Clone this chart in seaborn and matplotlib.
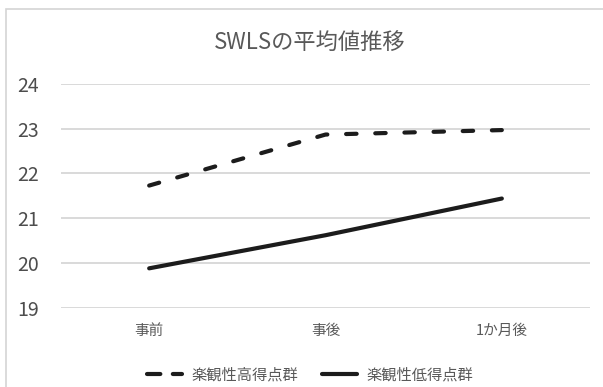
import matplotlib
matplotlib.use("Agg")
import matplotlib.pyplot as plt
from matplotlib.patches import Rectangle
import seaborn as sns
import pandas as pd

# Mean SWLS scores at each measurement point
periods = ["事前", "事後", "1か月後"]
high_group = [21.73, 22.87, 22.97]
low_group = [19.88, 20.62, 21.44]
group_names = ["楽観性高得点群", "楽観性低得点群"]
y_ticks = [19, 20, 21, 22, 23, 24]

df = pd.DataFrame({
    "時期": periods * 2,
    "SWLS": high_group + low_group,
    "群": [group_names[0]] * 3 + [group_names[1]] * 3,
})

sns.set_theme(style="white")
plt.rcParams["font.family"] = ["Noto Sans CJK JP", "DejaVu Sans"]

text_color = "#595959"
line_color = "#1c1c1c"

fig = plt.figure(figsize=(6.03, 3.87), dpi=100)
ax = fig.add_axes([61 / 603, 1 - 307.7 / 387, (590 - 61) / 603, (307.7 - 84) / 387])

sns.lineplot(
    data=df, x="時期", y="SWLS", hue="群", style="群",
    palette={group_names[0]: line_color, group_names[1]: line_color},
    dashes={group_names[0]: (2.5, 4.5), group_names[1]: ""},
    linewidth=3.0, legend=False, ax=ax, sort=False,
)
for ln in ax.lines:
    ln.set_dash_capstyle("round")
    ln.set_solid_capstyle("round")

ax.set_xlim(-0.5, 2.5)
ax.set_ylim(19, 24)
ax.set_yticks(y_ticks)
ax.set_yticklabels([str(v) for v in y_ticks], fontsize=14, color="#4d4d4d")
ax.set_xticks(range(len(periods)))
ax.set_xticklabels(periods, fontsize=10.5, color=text_color)
ax.tick_params(axis="y", length=0, pad=16)
ax.tick_params(axis="x", length=0, pad=12)
ax.set_xlabel("")
ax.set_ylabel("")
ax.yaxis.grid(True, color="#cfcfcf", linewidth=1.1)
ax.xaxis.grid(False)
for s in ax.spines.values():
    s.set_visible(False)
ax.set_facecolor("none")

handles = ax.lines[:2]
leg = fig.legend(
    handles, group_names, loc="center", bbox_to_anchor=(310 / 603, 1 - 375 / 387),
    ncol=2, frameon=False, fontsize=11, handlelength=2.3, handletextpad=0.6,
    columnspacing=1.6,
)
leg.legend_handles[0].set_dashes((3.2, 3.0))
for t in leg.get_texts():
    t.set_color(text_color)

fig.text(310 / 603, 1 - 42 / 387, "SWLSの平均値推移", ha="center", va="center",
         fontsize=16, color=text_color)

# chart-area border
fig.patches.append(Rectangle((6 / 603, -0.2), 1.2, 1.2 - 9 / 387,
                             transform=fig.transFigure, fill=False,
                             edgecolor="#d4d4d4", linewidth=1.2))

fig.savefig("out.png", dpi=100)
